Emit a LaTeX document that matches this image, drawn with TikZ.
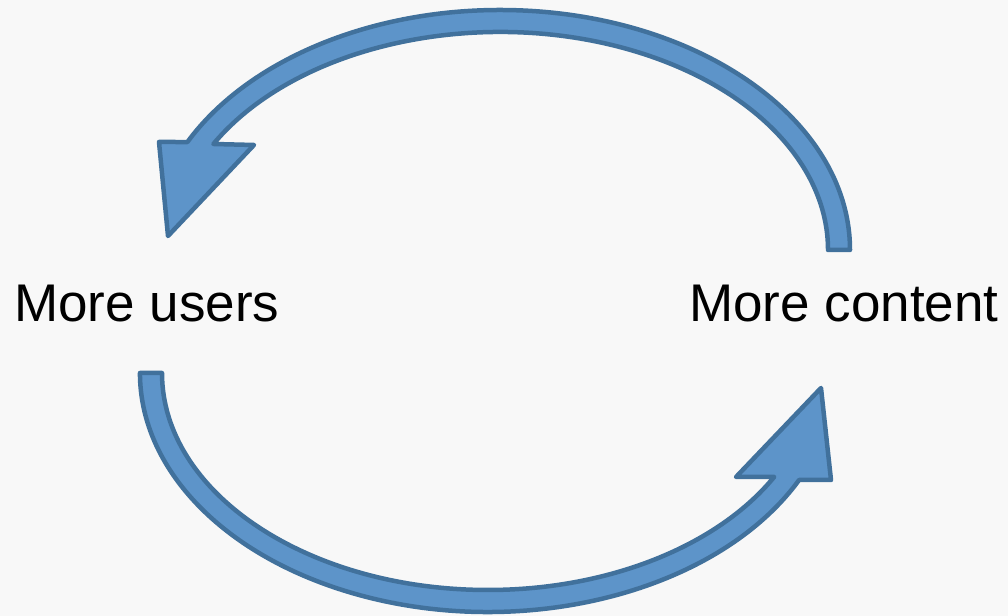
\documentclass[tikz,border=0pt]{standalone}
\usepackage{fontspec}
\setmainfont{Liberation Sans}
\definecolor{bandfill}{RGB}{93,148,201}
\definecolor{bandedge}{RGB}{65,113,156}
\definecolor{pagegray}{RGB}{248,248,248}

\begin{document}
\begin{tikzpicture}[x=0.025cm, y=0.025cm,
    loopband/.style={fill=bandfill, draw=bandedge, line width=3.2pt, line join=round},
    looplabel/.style={anchor=base west, inner sep=0pt, font=\fontsize{37.7}{45}\selectfont}]
    % Background
    \fill[pagegray] (0,0) rectangle (1008,616);
    \useasboundingbox (0,0) rectangle (1008,616);

    % Labels
    \node[looplabel] (users) at (14,294) {More users};
    \node[looplabel] (content) at (689,294) {More content};

    % Upper arrow: content back to users
    \draw[loopband] (850,366) arc[start angle=0, end angle=153.26, x radius=350, y radius=240]
        -- (159,474) -- (168,380) -- (254,471) -- (213.4,472)
        arc[start angle=150.91, end angle=0, x radius=328, y radius=218] -- cycle;

    % Lower arrow: users on to content
    \draw[loopband] (162,243) arc[start angle=180, end angle=331.4, x radius=326, y radius=217]
        -- (736,139) -- (821,228) -- (831,136) -- (799.1,136)
        arc[start angle=333.4, end angle=180, x radius=348, y radius=239] -- cycle;
\end{tikzpicture}
\end{document}
